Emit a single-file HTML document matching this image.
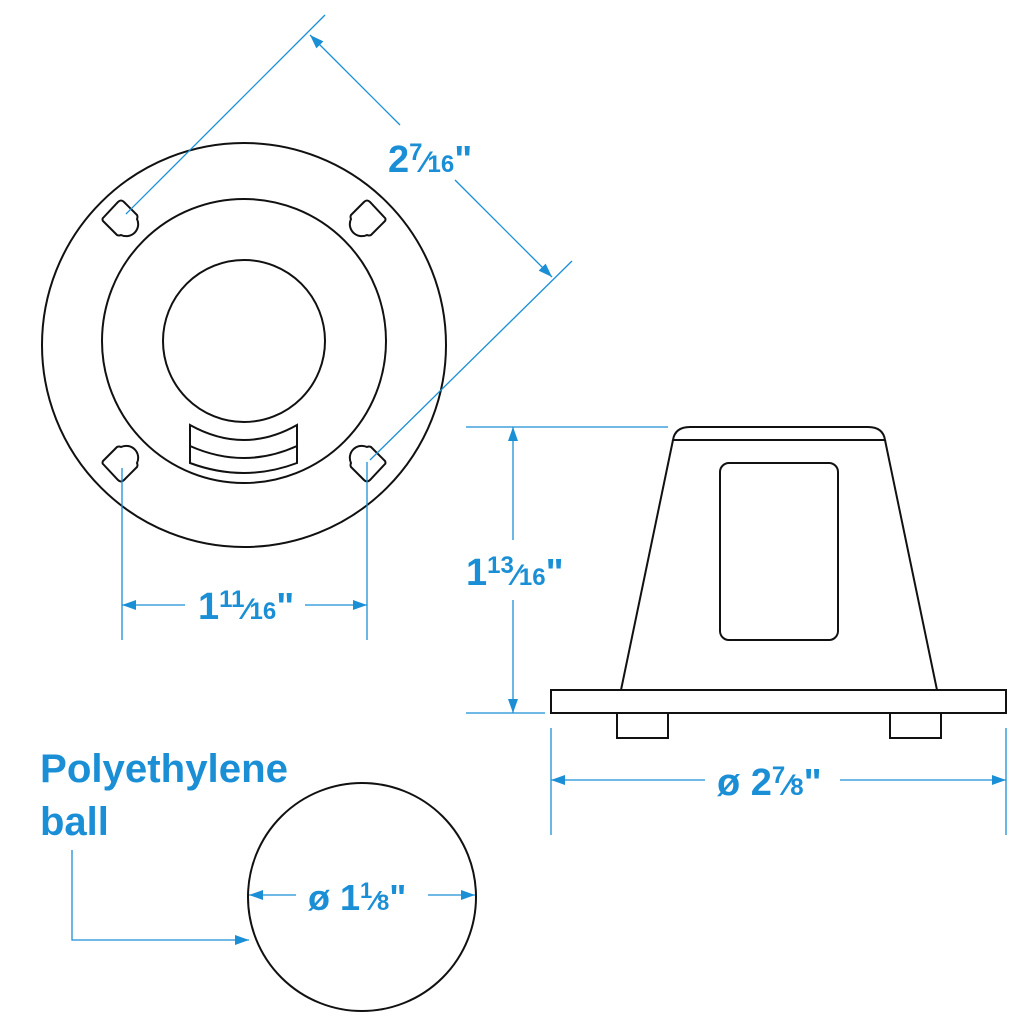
<!DOCTYPE html>
<html><head><meta charset="utf-8"><style>
html,body{margin:0;padding:0;background:#fff;}
svg{display:block;}
.k{fill:none;stroke:#111;stroke-width:2;}
.b{fill:none;stroke:#1a8fd6;stroke-width:1.3;}
.t{font-family:"Liberation Sans","DejaVu Sans",sans-serif;font-weight:bold;fill:#1a8fd6;}
</style></head><body>
<svg width="1024" height="1024" viewBox="0 0 1024 1024" xmlns="http://www.w3.org/2000/svg">
<defs>
<marker id="a" markerWidth="14" markerHeight="10" refX="14" refY="5" orient="auto" markerUnits="userSpaceOnUse">
<path d="M0,0 L14,5 L0,10 Z" fill="#1a8fd6"/></marker>
</defs>
<!-- top view -->
<circle class="k" cx="244" cy="345" r="202"/>
<circle class="k" cx="244" cy="341" r="142"/>
<circle class="k" cx="244" cy="341" r="81"/>
<path class="k" d="M190,425 Q244,455 297,425 L297,463 Q244,483 190,463 Z"/>
<path class="k" d="M190,446 Q244,470 297,446"/>
<!-- slots -->
<g class="k">
<path transform="translate(121,219)" d="M-18,-1 L-3,-17 Q0,-20 3,-17 L16,-4 Q17,-2 16,0 A12 12 0 0 1 0,16 Q-2,17 -4,16 L-18,2 Q-19,0 -18,-1 Z"/>
<path transform="translate(367,219) scale(-1,1)" d="M-18,-1 L-3,-17 Q0,-20 3,-17 L16,-4 Q17,-2 16,0 A12 12 0 0 1 0,16 Q-2,17 -4,16 L-18,2 Q-19,0 -18,-1 Z"/>
<path transform="translate(121,463) scale(1,-1)" d="M-18,-1 L-3,-17 Q0,-20 3,-17 L16,-4 Q17,-2 16,0 A12 12 0 0 1 0,16 Q-2,17 -4,16 L-18,2 Q-19,0 -18,-1 Z"/>
<path transform="translate(367,463) scale(-1,-1)" d="M-18,-1 L-3,-17 Q0,-20 3,-17 L16,-4 Q17,-2 16,0 A12 12 0 0 1 0,16 Q-2,17 -4,16 L-18,2 Q-19,0 -18,-1 Z"/>
</g>
<!-- diagonal dim -->
<line class="b" x1="126" y1="214" x2="325" y2="15"/>
<line class="b" x1="370" y1="460" x2="572" y2="261"/>
<line class="b" x1="400" y1="125" x2="310" y2="35" marker-end="url(#a)"/>
<line class="b" x1="455" y1="180" x2="552" y2="277" marker-end="url(#a)"/>
<text class="t" x="388" y="172" font-size="38">2<tspan font-size="24" dy="-12">7</tspan><tspan font-size="30" dy="12">⁄</tspan><tspan font-size="24" dy="0">16</tspan>"</text>
<!-- width dim -->
<line class="b" x1="122" y1="468" x2="122" y2="640"/>
<line class="b" x1="367" y1="462" x2="367" y2="640"/>
<line class="b" x1="185" y1="605" x2="122" y2="605" marker-end="url(#a)"/>
<line class="b" x1="305" y1="605" x2="367" y2="605" marker-end="url(#a)"/>
<text class="t" x="198" y="619" font-size="38">1<tspan font-size="24" dy="-12">11</tspan><tspan font-size="30" dy="12">⁄</tspan><tspan font-size="24">16</tspan>"</text>
<!-- side view -->
<path class="k" d="M673,440 Q675,427 690,427 L868,427 Q883,427 885,440 Z"/>
<path class="k" d="M673,440 L621,690 M885,440 L937,690"/>
<rect class="k" x="720" y="463" width="118" height="177" rx="9"/>
<rect class="k" x="551" y="690" width="455" height="23"/>
<rect class="k" x="617" y="713" width="51" height="25"/>
<rect class="k" x="890" y="713" width="51" height="25"/>
<!-- height dim -->
<line class="b" x1="466" y1="427" x2="668" y2="427"/>
<line class="b" x1="466" y1="713" x2="545" y2="713"/>
<line class="b" x1="513" y1="540" x2="513" y2="427" marker-end="url(#a)"/>
<line class="b" x1="513" y1="600" x2="513" y2="713" marker-end="url(#a)"/>
<text class="t" x="466" y="585" font-size="38">1<tspan font-size="24" dy="-12">13</tspan><tspan font-size="30" dy="12">⁄</tspan><tspan font-size="24">16</tspan>"</text>
<!-- base dim -->
<line class="b" x1="551" y1="728" x2="551" y2="835"/>
<line class="b" x1="1006" y1="728" x2="1006" y2="835"/>
<line class="b" x1="705" y1="780" x2="551" y2="780" marker-end="url(#a)"/>
<line class="b" x1="840" y1="780" x2="1006" y2="780" marker-end="url(#a)"/>
<text class="t" x="717" y="795" font-size="38">ø 2<tspan font-size="24" dy="-12">7</tspan><tspan font-size="30" dy="12">⁄</tspan><tspan font-size="24">8</tspan>"</text>
<!-- ball -->
<circle class="k" cx="362" cy="897" r="114"/>
<line class="b" x1="296" y1="895" x2="249" y2="895" marker-end="url(#a)"/>
<line class="b" x1="428" y1="895" x2="475" y2="895" marker-end="url(#a)"/>
<text class="t" x="308" y="910" font-size="36">ø 1<tspan font-size="22" dy="-12">1</tspan><tspan font-size="28" dy="12">⁄</tspan><tspan font-size="22">8</tspan>"</text>
<text class="t" x="40" y="782" font-size="40" textLength="248" lengthAdjust="spacingAndGlyphs">Polyethylene</text>
<text class="t" x="40" y="835" font-size="40">ball</text>
<polyline class="b" points="72,850 72,940 249,940" marker-end="url(#a)"/>
</svg>
</body></html>
